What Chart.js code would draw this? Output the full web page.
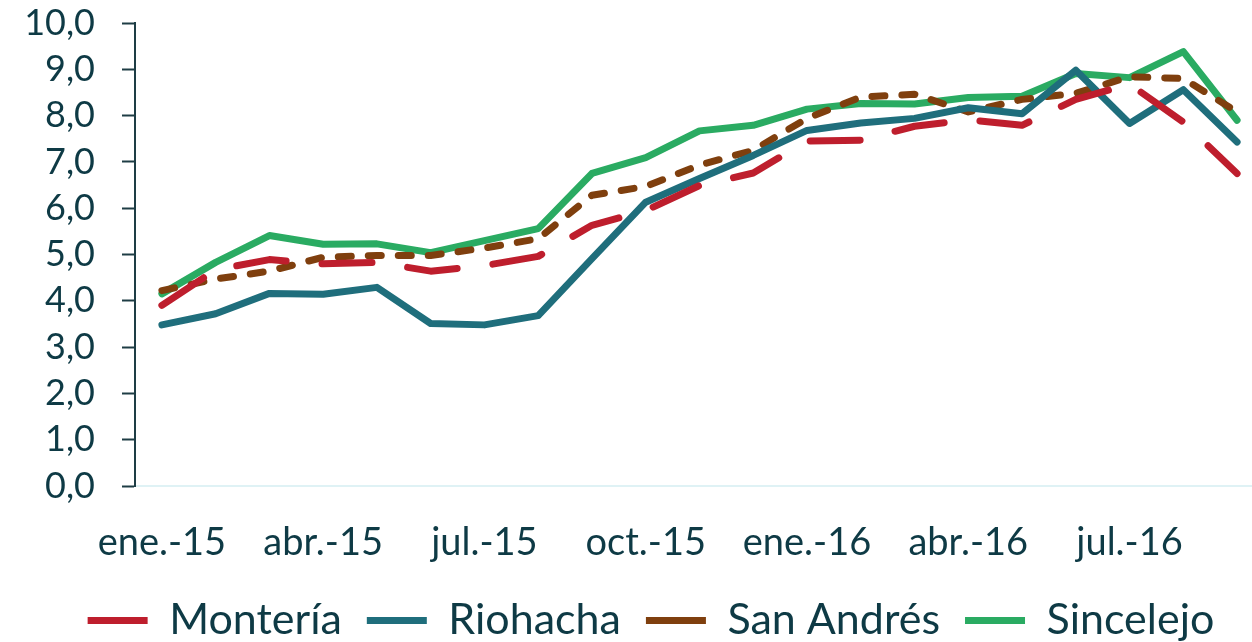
<!DOCTYPE html>
<html>
<head>
<meta charset="utf-8">
<script src="https://cdn.jsdelivr.net/npm/chart.js@4"></script>
<style>
  html, body { margin: 0; padding: 0; background: #fff; }
  #wrap { width: 1252px; height: 642px; }
</style>
</head>
<body>
<div id="wrap"><canvas id="grafico"></canvas></div>
<script>
// Meses (ene.-15 a sep.-16)
const meses = ['ene.-15', 'feb.-15', 'mar.-15', 'abr.-15', 'may.-15', 'jun.-15', 'jul.-15', 'ago.-15', 'sep.-15',
    'oct.-15', 'nov.-15', 'dic.-15', 'ene.-16', 'feb.-16', 'mar.-16', 'abr.-16', 'may.-16', 'jun.-16',
    'jul.-16', 'ago.-16', 'sep.-16'];

const monteria = [3.90, 4.67, 4.89, 4.80, 4.83, 4.64, 4.76, 4.96, 5.63, 5.95, 6.49, 6.76, 7.45, 7.47, 7.77, 7.91, 7.79, 8.35, 8.68, 7.86, 6.75];
const riohacha = [3.48, 3.72, 4.16, 4.14, 4.29, 3.51, 3.48, 3.68, 4.91, 6.13, 6.64, 7.14, 7.68, 7.84, 7.94, 8.17, 8.04, 8.98, 7.83, 8.56, 7.43];
const sanAndres = [4.22, 4.47, 4.64, 4.94, 4.98, 4.98, 5.14, 5.34, 6.28, 6.47, 6.93, 7.25, 7.94, 8.40, 8.46, 8.08, 8.35, 8.48, 8.84, 8.80, 8.08];
const sincelejo = [4.15, 4.83, 5.41, 5.22, 5.23, 5.04, 5.30, 5.56, 6.75, 7.09, 7.67, 7.79, 8.14, 8.26, 8.25, 8.39, 8.42, 8.91, 8.82, 9.38, 7.90];

const ticksY = [0, 1, 2, 3, 4, 5, 6, 7, 8, 9, 10];

const textoColor = '#0e3a45';

function serie(nombre, valores, color, dash) {
    return {
        label: nombre,
        data: valores.map((v, i) => ({ x: i, y: v })),
        borderColor: color,
        backgroundColor: color,
        borderWidth: 7,
        borderDash: dash,
        borderCapStyle: 'round',
        borderJoinStyle: 'round',
        pointRadius: 0,
        pointHoverRadius: 0,
        tension: 0
    };
}

const ctx = document.getElementById('grafico').getContext('2d');
const grafico = new Chart(ctx, {
    type: 'line',
    data: {
        datasets: [
            serie('Montería', monteria, '#be1e2d', [50, 36]),
            serie('Riohacha', riohacha, '#1f6e7c', []),
            serie('San Andrés', sanAndres, '#7f3f0e', [13, 17]),
            serie('Sincelejo', sincelejo, '#2aab62', [])
        ]
    },
    options: {
        responsive: true,
        maintainAspectRatio: false,
        animation: false,
        layout: {
            padding: { top: 23, left: 0, right: -50, bottom: -10 }
        },
        plugins: {
            tooltip: { enabled: false },
            legend: {
                position: 'bottom',
                labels: {
                    usePointStyle: true,
                    pointStyle: 'line',
                    pointStyleWidth: 60,
                    padding: 25,
                    color: textoColor,
                    font: { family: 'Lato', size: 43 }
                }
            }
        },
        scales: {
            x: {
                type: 'linear',
                min: -0.5,
                max: -0.5 + (1252 - 135) / 53.76,
                grid: { display: false },
                border: { display: true, color: '#dff2f5', width: 2 },
                afterBuildTicks: (scale) => {
                    scale.ticks = meses.map((m, i) => ({ value: i })).filter(t => t.value % 3 === 0);
                },
                ticks: {
                    autoSkip: false,
                    maxRotation: 0,
                    padding: 23,
                    color: textoColor,
                    font: { family: 'Lato', size: 38, lineHeight: '17px' },
                    callback: (v) => ['', meses[v]]
                }
            },
            y: {
                min: 0,
                max: 10,
                afterFit: (scale) => {
                    scale.width = 135;
                    scale.paddingTop = 20;
                    scale.paddingBottom = 20;
                },
                afterBuildTicks: (scale) => {
                    scale.ticks = ticksY.map(v => ({ value: v }));
                },
                grid: {
                    drawOnChartArea: false,
                    drawTicks: true,
                    tickLength: 13,
                    tickWidth: 2,
                    tickColor: '#1e3d45'
                },
                border: { display: true, color: '#1e3d45', width: 2 },
                ticks: {
                    autoSkip: false,
                    padding: 27,
                    color: textoColor,
                    font: { family: 'Lato', size: 36 },
                    callback: (v) => v.toFixed(1).replace('.', ',')
                }
            }
        }
    }
});
</script>
</body>
</html>
